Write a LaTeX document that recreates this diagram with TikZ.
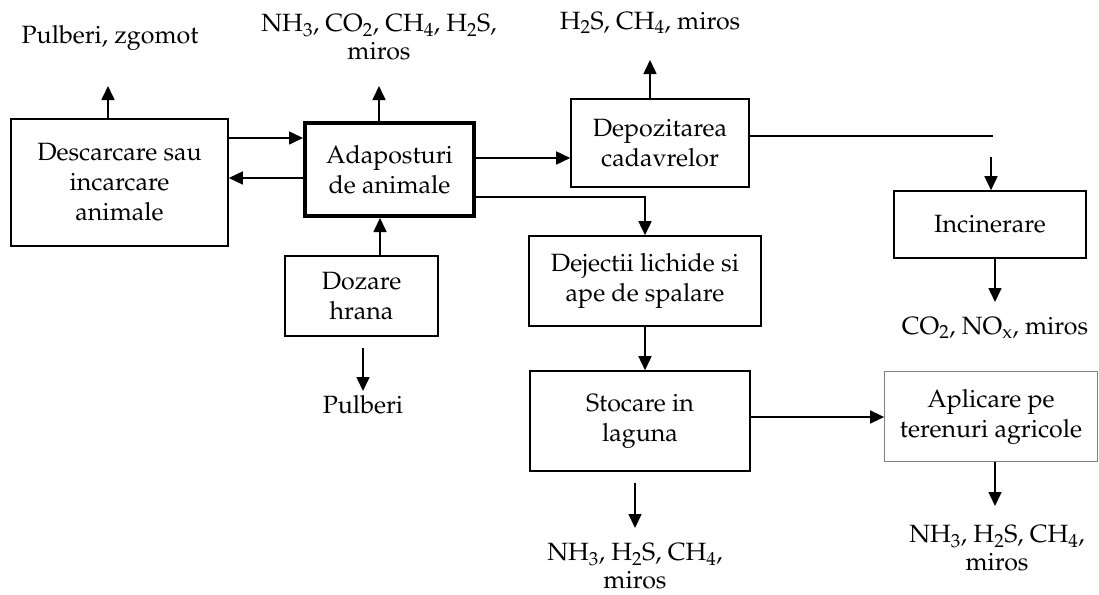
\documentclass[tikz,border=0pt]{standalone}
\usepackage[T1]{fontenc}
\usepackage{mathpazo}
\usetikzlibrary{arrows.meta,positioning}

\newcommand{\ssub}[1]{\textsubscript{#1}}

\begin{document}
\begin{tikzpicture}[
  x=1pt,y=-1pt,
  stage/.style={draw,line width=1.6pt,align=center,inner sep=2pt,font=\fontsize{25}{30}\selectfont},
  emission/.style={align=center,inner sep=0pt,font=\fontsize{25}{27.5}\selectfont},
  flow/.style={line width=1.6pt,-{Triangle[length=14pt,width=13pt]}}
]
  \useasboundingbox (0,0) rectangle (1099,594);

  % process stages
  \node[stage,minimum width=217pt,minimum height=127pt] (desc) at (119.5,182.5) {Descarcare sau\\incarcare\\animale};
  \node[stage,line width=4pt,minimum width=169pt,minimum height=93pt] (adap) at (389.5,169.5) {Adaposturi\\de animale};
  \node[stage,minimum width=153pt,minimum height=80pt] (doz) at (361.5,296) {Dozare\\hrana};
  \node[stage,minimum width=178pt,minimum height=88pt] (depo) at (660,143) {Depozitarea\\cadavrelor};
  \node[stage,minimum width=192pt,minimum height=67pt] (incin) at (990,224.5) {Incinerare};
  \node[stage,minimum width=232pt,minimum height=90pt] (dej) at (645,281) {Dejectii lichide si\\ape de spalare};
  \node[stage,minimum width=220pt,minimum height=100pt] (stoc) at (640,421) {Stocare in\\laguna};
  \node[stage,draw=gray,line width=.8pt,minimum width=213pt,minimum height=90pt] (apl) at (991,416.5) {Aplicare pe\\terenuri agricole};

  % emissions
  \node[emission] (descgas) at (110,38) {Pulberi, zgomot};
  \node[emission] (adapgas) at (379,37) {NH\ssub{3}, CO\ssub{2}, CH\ssub{4}, H\ssub{2}S,\\miros};
  \node[emission] (depogas) at (650,23) {H\ssub{2}S, CH\ssub{4}, miros};
  \node[emission] (dozgas) at (363,405) {Pulberi};
  \node[emission] (incgas) at (995,328) {CO\ssub{2}, NO\ssub{x}, miros};
  \node[emission] (stocgas) at (635,566) {NH\ssub{3}, H\ssub{2}S, CH\ssub{4},\\miros};
  \node[emission] (aplgas) at (997,548) {NH\ssub{3}, H\ssub{2}S, CH\ssub{4},\\miros};

  \coordinate (descout) at (108,86);
  \coordinate (adapout) at (379,86);
  \coordinate (depoout) at (650,60);
  \coordinate (dozfrom) at (363,348);
  \coordinate (dozout) at (363,391);
  \coordinate (depoend) at (993,136);
  \coordinate (incfrom) at (991,157);
  \coordinate (incout) at (995,302);
  \coordinate (stocfrom) at (635,483);
  \coordinate (stocout) at (635,528);
  \coordinate (aplout) at (995,506);

  % flows between stages
  \draw[flow] ([yshift=44.5pt]desc.east) -- ([yshift=44.5pt]desc.east -| adap.west);
  \draw[flow] ([yshift=-8.5pt]adap.west) -- ([yshift=-8.5pt]adap.west -| desc.east);
  \draw[flow] ([yshift=11.5pt]adap.east) -- ([yshift=11.5pt]adap.east -| depo.west);
  \draw[flow] ([yshift=-27.5pt]adap.east) -| (dej.north);
  \draw[flow] ([xshift=18.5pt]doz.north) -- ([xshift=18.5pt]doz.north |- adap.south);
  \draw[flow] (dej.south) -- (dej.south |- stoc.north);
  \draw[flow] ([yshift=4pt]stoc.east) -- ([yshift=4pt]stoc.east -| apl.west);
  \draw[line width=1.6pt] ([yshift=7pt]depo.east) -- (depoend);
  \draw[flow] (incfrom) -- (incfrom |- incin.north);

  % flows to emissions
  \draw[flow] (desc.north -| descout) -- (descout);
  \draw[flow] (adap.north -| adapout) -- (adapout);
  \draw[flow] (depo.north -| depoout) -- (depoout);
  \draw[flow] (dozfrom) -- (dozout);
  \draw[flow] (incin.south -| incout) -- (incout);
  \draw[flow] (stocfrom) -- (stocout);
  \draw[flow] (apl.south -| aplout) -- (aplout);
\end{tikzpicture}
\end{document}
